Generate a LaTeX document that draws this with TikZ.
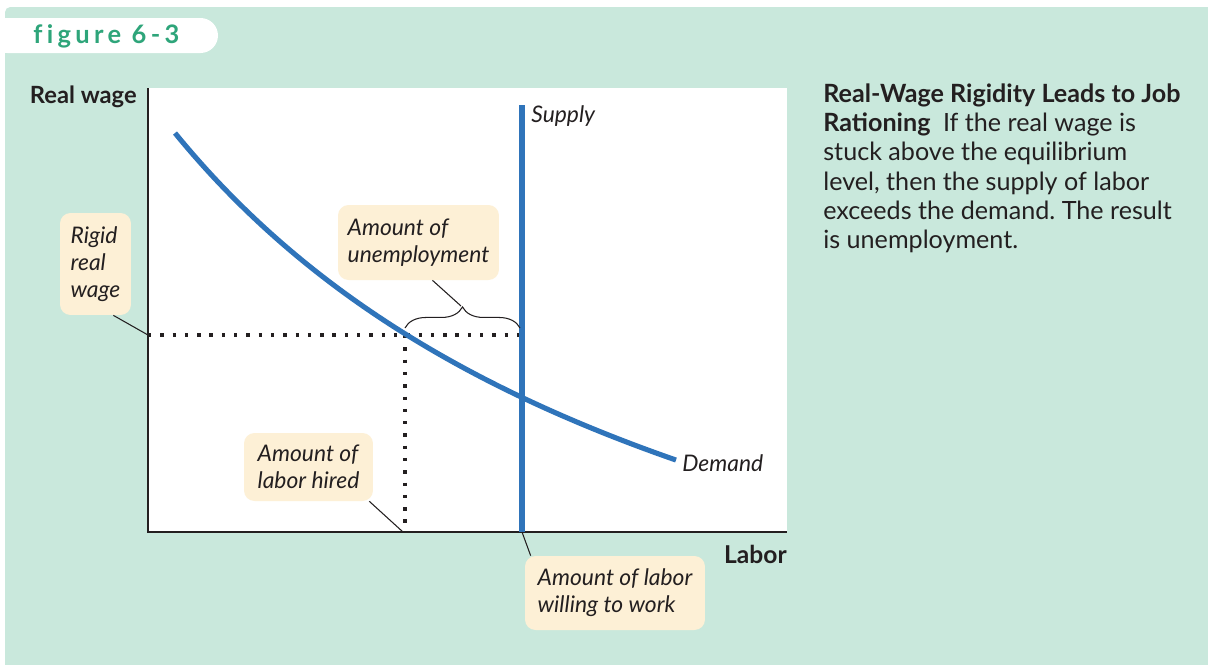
\documentclass[tikz,border=0pt]{standalone}
\usepackage{fontspec}
\setmainfont{Lato}
\usetikzlibrary{calc,decorations.pathreplacing}
\definecolor{panelgreen}{HTML}{C9E8DC}
\definecolor{notecream}{HTML}{FDF0D6}
\definecolor{curveblue}{HTML}{2F74BA}
\definecolor{titleteal}{HTML}{2EA57A}
\definecolor{inkdark}{HTML}{231F20}
\frenchspacing

\begin{document}
\begin{tikzpicture}[x=0.02cm,y=-0.02cm,
  every node/.style={inner sep=0pt,text=inkdark,font=\fontsize{13}{15.5}\selectfont},
  note/.style={fill=notecream,rounded corners=6pt,align=left,font=\fontsize{13}{15.5}\selectfont\itshape},
  ax/.style={inkdark,line width=0.8pt},
  curve/.style={curveblue,line width=2.9pt},
  dots/.style={inkdark,line width=1.9pt,dash pattern=on 1.9pt off 5.1pt},
  pointer/.style={inkdark,line width=0.6pt}]
	\useasboundingbox (0,0) rectangle (1208,664);
	\fill[panelgreen,rounded corners=3pt] (5,7) rectangle (1230,690);
	\fill[white,rounded corners=10pt] (-10,18) rectangle (218,53);
	\node (fig) at (33,36) [anchor=west,text=titleteal,font=\fontsize{14.5}{16}\selectfont\bfseries\addfontfeature{LetterSpace=17,Ligatures=NoCommon}] {figure 6-3};
	
	% graph area
	\fill[white] (148,88) rectangle (787,532);
	\draw[dots] (148,335) -- (522,335);
	\draw[dots] (405,335) -- (405,532);
	\draw[curve] plot[domain=175:676,samples=80] ({\x},{834.3-4021/((\x+398.4)/100)});
	\draw[ax] (148,88) -- (148,532) -- (787,532);
	\draw[curve] (522,105) -- (522,532);
	\draw[pointer,decorate,decoration={brace,amplitude=12pt}] (405,328) -- (520,328);
	
	\node (ylab) at (137,97) [anchor=east,font=\fontsize{13.5}{16}\selectfont\bfseries] {Real wage};
	\node (xlab) at (787,554) [anchor=east,font=\fontsize{14}{16}\selectfont\bfseries] {Labor};
	\node (supply) at (531,116) [anchor=west,font=\fontsize{13}{15.5}\selectfont\itshape] {Supply};
	\node (demand) at (682,463) [anchor=west,font=\fontsize{13}{15.5}\selectfont\itshape] {Demand};
	
	% notes
	\node (rigid) at (95.5,264) [note,minimum width=1.42cm,minimum height=2.04cm] {Rigid\\real\\wage};
	\node (unemp) at (418.5,242.5) [note,minimum width=3.22cm,minimum height=1.5cm] {Amount of\\unemployment};
	\node (hired) at (308.5,467) [note,minimum width=2.58cm,minimum height=1.36cm] {Amount of\\labor hired};
	\node (willing) at (615,593) [note,minimum width=3.6cm,minimum height=1.48cm] {Amount of labor\\willing to work};
	
	\coordinate (wageax) at (148,335);
	\coordinate (hiredax) at (403,532);
	\coordinate (supplyax) at (522,532);
	\coordinate (tip) at (461,306);
	\draw[pointer] ($(rigid.south east)+(-18,0)$) -- (wageax);
	\draw[pointer] ($(unemp.south)+(14,0)$) -- (tip);
	\draw[pointer] ($(hired.south east)+(-4,0)$) -- (hiredax);
	\draw[pointer] (supplyax) -- ($(willing.north west)+(6,0)$);
	
	% caption
	\node (caption) at (823,83) [anchor=north west,align=left,font=\fontsize{14.3}{16.7}\selectfont] {\textbf{Real-Wage Rigidity Leads to Job}\\\textbf{Rationing}\enspace If the real wage is\\stuck above the equilibrium\\level, then the supply of labor\\exceeds the demand. The result\\is unemployment.};
\end{tikzpicture}
\end{document}
